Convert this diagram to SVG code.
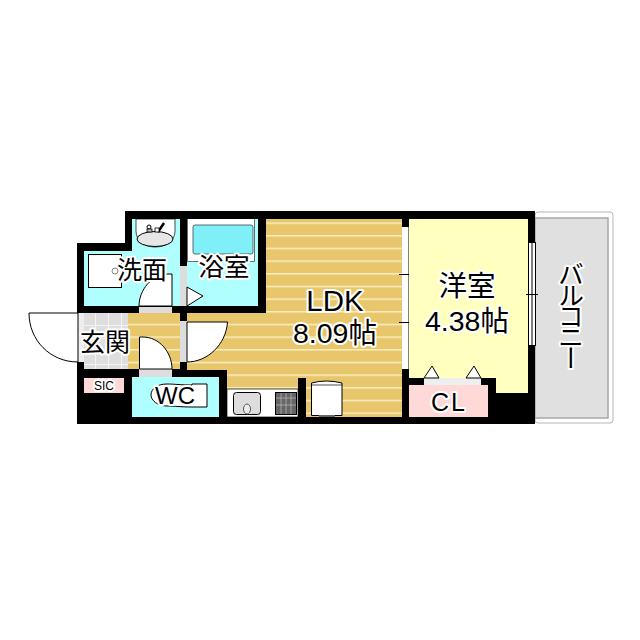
<svg xmlns="http://www.w3.org/2000/svg" width="640" height="640" viewBox="0 0 640 640">
<defs>
<pattern id="wood" patternUnits="userSpaceOnUse" x="0" y="217.5" width="8" height="12.67"><rect width="8" height="12.67" fill="#e8c76c"/><rect y="5" width="8" height="1.3" fill="#fdf3d0"/></pattern>
<pattern id="tile" patternUnits="userSpaceOnUse" x="83" y="313" width="13" height="13"><rect width="13" height="13" fill="#dedede"/><path d="M12.5 0V13M0 12.5H13" stroke="#f4f4f4" stroke-width="1"/></pattern>
</defs>
<style>
.w{fill:#000}
.cy{fill:#b0ffff}
.ln{fill:#fff;stroke:#000;stroke-width:1}
text{font-family:"Liberation Sans","Noto Sans CJK JP",sans-serif;fill:#000;stroke:#fff;stroke-width:4;paint-order:stroke;stroke-linejoin:round;text-anchor:middle}
.j{font-family:"Noto Sans CJK JP","Liberation Sans",sans-serif}
</style>
<rect width="640" height="640" fill="#fff"/>
<g id="balcony">
<rect x="535" y="212" width="78" height="211" rx="3" fill="#fff" stroke="#b5b5b5"/>
<rect x="535" y="218" width="73" height="200" fill="#e0e0e0" stroke="#a8a8a8" stroke-width="1.5"/>
<text class="j" x="571" y="314" font-size="26" letter-spacing="-5" stroke-width="3" style="writing-mode:vertical-rl;text-orientation:upright" dominant-baseline="central">バルコニー</text>
</g>
<g id="walls">
<path class="w" d="M125 211H535V424H77V243H125Z"/>
<rect x="70" y="313" width="8" height="49" fill="#fff"/>
</g>
<g id="washroom">
<path class="cy" d="M132 219H180V306H84V251H132Z"/>
<path d="M136 219H175V231C175 241 166 247 155 247C145 247 136 241 136 231Z" fill="#fff" stroke="#000" stroke-width=".7"/>
<ellipse cx="155" cy="239" rx="18" ry="7.500" fill="#e6e6e6" stroke="#000"/>
<path d="M158 232L164 223" stroke="#000" stroke-width="2.500" fill="none"/>
<circle cx="149" cy="227" r="2" fill="#fff" stroke="#000"/>
<rect x="147" y="229" width="5" height="3" fill="#bbb" stroke="#000" stroke-width=".8"/>
<rect x="155" y="228" width="4" height="4" fill="#fff" stroke="#000" stroke-width=".8"/>
<rect class="ln" x="88.500" y="254.500" width="33" height="33"/>
<circle cx="115" cy="271" r="3" fill="#fff" stroke="#888"/>
<path class="ln" d="M139 306C139 290 152 274 168 274H172V306Z"/>
<rect x="139" y="307" width="33" height="6" fill="#ddd"/>
<text class="j" x="142" y="279" font-size="25">洗面</text>
</g>
<g id="bath">
<rect class="cy" x="187" y="219" width="71" height="87"/>
<path d="M187.500 219V261.500H254.500V219" fill="#fff" stroke="#333" stroke-width=".7"/>
<rect x="193" y="225" width="60" height="29" rx="2" fill="#80f0f8" stroke="#444" stroke-width=".8"/>
<text class="j" x="224" y="276" font-size="25.500">浴室</text>
<rect x="180" y="266" width="7" height="40" fill="#ddd"/>
<path class="ln" d="M187 287L203 296L187 306Z"/>
</g>
<g id="ldk">
<path d="M128 313H180V369H128Z" fill="url(#wood)"/>
<path d="M187 313H266V219H402V417H227V370H187Z" fill="url(#wood)"/>
<rect x="180" y="321" width="7" height="41" fill="#ddd"/>
<rect x="298" y="378" width="8" height="46" class="w"/>
<path d="M227 389H298V417H227Z" fill="#fff" stroke="#000" stroke-width=".7"/>
<rect x="233.500" y="392.500" width="27" height="22" rx="3" fill="#ddd" stroke="#000"/>
<ellipse cx="247" cy="409" rx="3.500" ry="5" fill="#eee" stroke="#555"/>
<rect x="275.500" y="392.500" width="21" height="22" fill="#666" stroke="#000"/>
<path d="M276 398H296M276 405H296M281 393V414M286 393V414M291 393V414" stroke="#bbb" stroke-width=".7"/>
<path class="ln" d="M311.500 383Q326 379 342 383V415.500H311.500Z"/>
<path d="M311.500 385H342" stroke="#000" stroke-width=".7"/>
<rect x="319" y="415" width="16" height="2" fill="#666"/>
<path class="ln" d="M187 322H227.500C226 345 207 362 187 362Z"/>
<text x="335" y="311" font-size="29.500">LDK</text>
<text x="335" y="343" font-size="28.500">8.09<tspan class="j">帖</tspan></text>
<rect x="402" y="227" width="6.500" height="142" fill="#fff"/>
<path d="M399 274.500H413M399 322.500H413" stroke="#000"/>
</g>
<g id="entrance">
<rect x="84" y="313" width="44" height="56" fill="url(#tile)"/>
<rect x="78" y="313" width="6" height="49" fill="#eee"/>
<path class="ln" d="M29 313H78V362C50 362 29 340 29 313Z"/>
<text class="j" x="105" y="351" font-size="25">玄関</text>
</g>
<g id="wc">
<rect class="cy" x="132" y="377" width="87" height="40"/>
<rect x="139" y="369" width="33" height="8" fill="#ddd"/>
<path class="ln" d="M139.500 337H143C159 337 172 352 172 369H139.500Z"/>
<path class="ln" d="M192 384H207V407H192C180 407 175 406 167 406C157 406 151 400 151 395C151 389 157 384 167 384C175 384 180 385 192 385Z"/>
<text x="175" y="404" font-size="24" stroke-width="2">WC</text>
</g>
<g id="sic">
<rect x="84" y="378" width="40" height="15" fill="#ffd8d8"/>
<text x="104" y="390" font-size="12" stroke="none">SIC</text>
</g>
<g id="western">
<path d="M409 219H528V393H496V378H409Z" fill="#ffffc0"/>
<rect x="409" y="385" width="79" height="32" fill="#ffd8d8"/>
<path class="w" d="M409 378H496V393H488V385H409Z"/>
<rect x="424" y="378" width="57" height="7" fill="#eee"/>
<path class="ln" d="M424 378L432 366L439 378ZM466 378L474 366L481 378Z"/>
<rect x="528.500" y="242.500" width="7" height="103" fill="#fff" stroke="#000" stroke-width="1"/>
<path d="M532 243V346M526 294.500H538" stroke="#000"/>
<text class="j" x="467" y="296" font-size="28.500">洋室</text>
<text x="467" y="331" font-size="28.500">4.38<tspan class="j">帖</tspan></text>
<text x="449" y="411" font-size="25" letter-spacing="2" stroke="none">CL</text>
</g>
</svg>
